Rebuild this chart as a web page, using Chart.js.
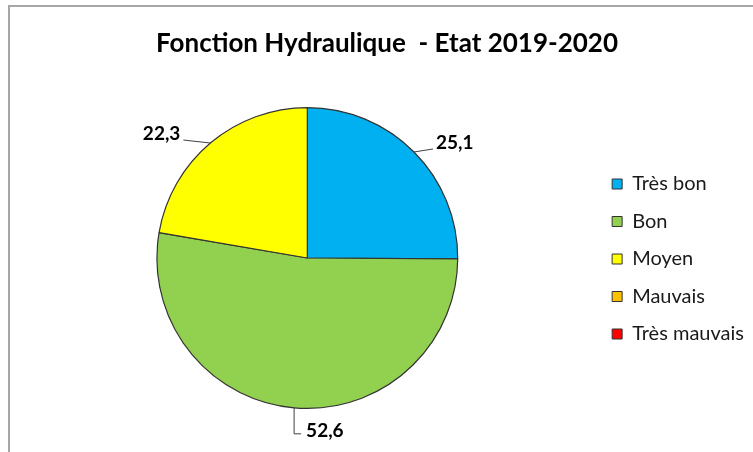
<!DOCTYPE html>
<html>
<head>
<meta charset="utf-8">
<script src="https://cdn.jsdelivr.net/npm/chart.js@4"></script>
<style>
  html, body { margin: 0; padding: 0; background: #fff; overflow: hidden; }
  #wrap { position: relative; width: 753px; height: 452px; }
  #frame { position: absolute; left: 8px; top: 5px; width: 800px; height: 500px;
           border-left: 2px solid #a6a6a6; border-top: 2px solid #a6a6a6; }
  canvas { position: absolute; left: 0; top: 0; }
</style>
</head>
<body>
<div id="wrap">
  <div id="frame"></div>
  <canvas id="chartPie" width="753" height="452"></canvas>
</div>
<script>
(function () {
  var categories = ['Très bon', 'Bon', 'Moyen', 'Mauvais', 'Très mauvais'];
  var values = [25.1, 52.6, 22.3, 0, 0];
  var colors = ['#00b0f0', '#92d050', '#ffff00', '#ffc000', '#ff0000'];
  var titleText = 'Fonction Hydraulique  - Etat 2019-2020';

  var fontFamily = 'Lato, "Open Sans", "Liberation Sans", sans-serif';

  // labels outside the slices, with leader lines (Excel style)
  var outLabels = {
    id: 'outLabels',
    afterDatasetsDraw: function (chart) {
      var ctx = chart.ctx;
      var meta = chart.getDatasetMeta(0);
      ctx.save();
      ctx.font = 'bold 19px ' + fontFamily;
      ctx.fillStyle = '#000';
      ctx.strokeStyle = '#404040';
      ctx.lineWidth = 1;
      ctx.textBaseline = 'middle';
      meta.data.forEach(function (arc, i) {
        var v = values[i];
        if (!v) return;
        var p = arc.getProps(['x', 'y', 'startAngle', 'endAngle', 'outerRadius'], true);
        var mid = (p.startAngle + p.endAngle) / 2;
        var c = Math.cos(mid), s = Math.sin(mid);
        var px = p.x + p.outerRadius * c;
        var py = p.y + p.outerRadius * s;
        var txt = v.toFixed(1).replace('.', ',');
        ctx.beginPath();
        ctx.moveTo(px, py);
        if (Math.abs(c) < 0.3) {
          // bottom / top label: elbow line
          var ey = py + (s > 0 ? 26 : -26);
          ctx.lineTo(px, ey);
          ctx.lineTo(px + 7, ey);
          ctx.stroke();
          ctx.textAlign = 'left';
          ctx.fillText(txt, px + 12, ey - 3);
        } else {
          var sg = c > 0 ? 1 : -1;
          var ex = px + (c > 0 ? 19 : -27);
          var ey2 = py - 3;
          ctx.lineTo(ex, ey2);
          ctx.stroke();
          ctx.textAlign = c > 0 ? 'left' : 'right';
          ctx.fillText(txt, ex + sg * 3, ey2 - 6);
        }
      });
      ctx.restore();
    }
  };

  var ctx = document.getElementById('chartPie').getContext('2d');
  new Chart(ctx, {
    type: 'pie',
    data: {
      labels: categories,
      datasets: [{
        data: values,
        backgroundColor: colors,
        borderColor: '#333333',
        borderWidth: 1.2
      }]
    },
    options: {
      responsive: false,
      animation: false,
      layout: { padding: { top: 28.4, bottom: 43, left: 20, right: -1 } },
      plugins: {
        title: {
          display: true,
          text: titleText,
          color: '#000',
          font: { family: fontFamily, size: 26, weight: 'bold', lineHeight: 1.2 },
          padding: { top: 0, bottom: 47.4 }
        },
        legend: {
          position: 'right',
          title: {
            display: true,
            text: ' ',
            font: { size: 10, lineHeight: 1.2 },
            padding: { top: 0, bottom: 68.6 }
          },
          labels: {
            boxWidth: 10,
            boxHeight: 10,
            padding: 17.5,
            color: '#1a1a1a',
            font: { family: fontFamily, size: 20 },
            generateLabels: function (chart) {
              return categories.map(function (name, i) {
                return {
                  text: name,
                  fillStyle: colors[i],
                  strokeStyle: '#333333',
                  lineWidth: 1,
                  fontColor: '#1a1a1a',
                  hidden: false,
                  index: i
                };
              });
            }
          }
        },
        tooltip: { enabled: false }
      }
    },
    plugins: [outLabels]
  });
})();
</script>
</body>
</html>
